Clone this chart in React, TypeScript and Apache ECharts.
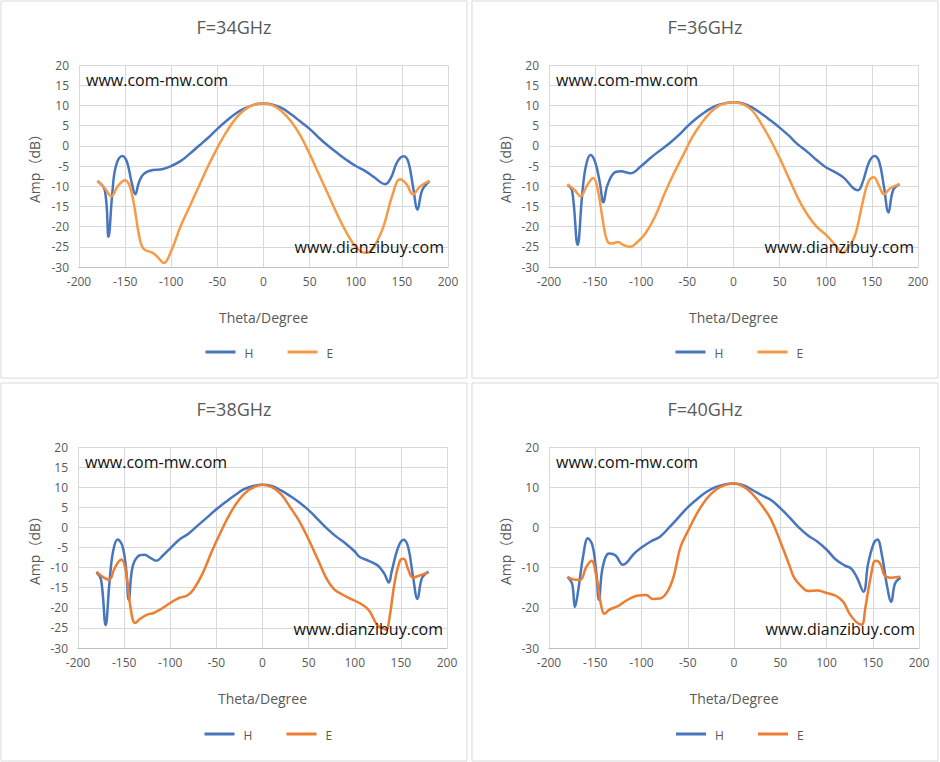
import { useEffect, useRef } from 'react';
import * as echarts from 'echarts';

type Pt = [number, number];

const titles = ['F=34GHz', 'F=36GHz', 'F=38GHz', 'F=40GHz'];
const yIntervals = [5, 5, 5, 10];

const h34: Pt[] = [[-180,-8.7],[-172,-11],[-168,-22.5],[-164,-12],[-160,-5],[-153,-2.5],[-148,-4],[-143,-9],[-139,-12],[-135,-9],[-130,-7],[-120,-6],[-110,-5.8],[-100,-5],[-90,-3.8],[-80,-2],[-70,0],[-60,2],[-50,4.2],[-40,6.2],[-30,8],[-20,9.3],[-10,10.2],[0,10.5],[10,10.2],[20,9.3],[30,7.8],[40,6],[50,4.2],[60,2],[70,0],[80,-1.8],[90,-3.5],[100,-5],[110,-6.2],[120,-7.8],[132,-9.5],[138,-8],[145,-4],[152,-2.6],[157,-4],[162,-10],[167,-15.8],[172,-11],[180,-8.7]];
const e34: Pt[] = [[-180,-8.7],[-172,-10.5],[-165,-12.5],[-158,-10],[-150,-8.5],[-145,-10],[-140,-15],[-135,-22],[-130,-25.5],[-120,-26.5],[-115,-27.5],[-108,-29],[-100,-26],[-90,-20],[-80,-15],[-70,-10],[-60,-5],[-50,-0.5],[-40,3.5],[-30,6.8],[-20,9],[-10,10.2],[0,10.5],[10,10],[20,8.5],[30,6],[40,2.5],[50,-2],[60,-7],[70,-12],[80,-17],[90,-21.5],[100,-25],[110,-26.5],[115,-26.3],[120,-25],[130,-20],[140,-12],[148,-8.3],[155,-9.5],[162,-12],[170,-10],[180,-8.7]];
const h36: Pt[] = [[-180,-9.7],[-175,-11],[-169,-24.5],[-164,-12],[-160,-5],[-155,-2.3],[-150,-4],[-145,-9],[-141,-14],[-137,-10],[-130,-6.8],[-122,-6.3],[-112,-6.8],[-100,-5],[-90,-3],[-80,-1.2],[-70,0.5],[-60,2.5],[-50,4.8],[-40,6.8],[-30,8.5],[-20,9.8],[-10,10.5],[0,10.8],[10,10.5],[20,9.5],[30,8],[40,6.3],[50,4.5],[60,2.5],[70,0.3],[80,-1.5],[90,-3.5],[100,-5.3],[110,-6.5],[120,-8],[130,-10.5],[135,-11],[140,-9],[147,-4],[153,-2.5],[158,-4],[163,-10],[168,-16.5],[173,-11],[180,-9.5]];
const e36: Pt[] = [[-180,-9.5],[-172,-11],[-166,-12.5],[-158,-9.5],[-152,-8],[-147,-11],[-142,-18],[-137,-23.5],[-132,-24.2],[-125,-23.8],[-120,-24.5],[-112,-25],[-105,-24],[-95,-21.5],[-85,-17.5],[-75,-12],[-65,-7],[-55,-2.5],[-45,2],[-35,5.5],[-25,8.3],[-15,10],[-5,10.7],[0,10.8],[10,10.3],[20,8.8],[30,5.5],[40,1.5],[50,-3],[60,-8],[70,-13],[80,-17],[90,-20],[100,-22],[110,-24.5],[118,-26.5],[125,-25],[132,-22],[140,-14],[146,-9],[152,-7.8],[158,-10],[163,-12],[170,-10.5],[180,-9.5]];
const h38: Pt[] = [[-180,-11.2],[-175,-13],[-170,-24.3],[-166,-14],[-162,-6],[-157,-3],[-152,-4.5],[-148,-10],[-145,-18],[-141,-10],[-135,-7.2],[-128,-6.8],[-122,-7.5],[-115,-8.3],[-108,-7],[-100,-5.2],[-90,-3],[-80,-1.5],[-70,0.5],[-60,2.5],[-50,4.5],[-40,6.3],[-30,8],[-20,9.5],[-10,10.3],[0,10.6],[10,10.3],[20,9.2],[30,7.8],[40,6.2],[50,4.3],[60,2],[70,-0.3],[80,-2.3],[90,-4],[100,-6],[105,-7.3],[115,-8.3],[125,-9.5],[132,-11.5],[137,-13.7],[140,-11],[147,-5],[153,-3.1],[158,-5],[163,-12],[168,-17.8],[173,-12.5],[180,-11]];
const e38: Pt[] = [[-180,-11],[-172,-12.5],[-166,-13],[-160,-10],[-153,-8],[-148,-11],[-143,-20],[-138,-23.8],[-133,-22.8],[-125,-21.7],[-118,-21.3],[-110,-20.3],[-100,-18.8],[-90,-17.5],[-82,-17],[-75,-15.5],[-65,-11.5],[-55,-6],[-45,-1],[-35,3.5],[-25,7],[-15,9.3],[-5,10.4],[0,10.6],[10,10],[20,8.3],[30,5],[40,1.5],[50,-3],[60,-8],[70,-13],[78,-15.5],[85,-16.5],[95,-17.7],[105,-18.8],[115,-20.5],[120,-22.5],[125,-24.5],[130,-25],[134,-25.5],[138,-22],[143,-14],[149,-8.3],[153,-7.8],[158,-10.5],[163,-12.5],[170,-12],[180,-11.2]];
const h40: Pt[] = [[-180,-12.3],[-175,-14],[-172,-19.8],[-168,-15],[-163,-7],[-158,-2.7],[-153,-4.5],[-149,-11],[-146,-18],[-142,-10],[-135,-6.5],[-128,-7],[-120,-9.3],[-115,-8.5],[-108,-6.5],[-100,-5],[-90,-3.5],[-80,-2.3],[-70,0],[-60,2.5],[-50,5],[-40,7],[-30,8.8],[-20,10],[-10,10.7],[0,10.9],[10,10.5],[20,9.3],[30,8],[40,6.8],[50,4.8],[60,2.5],[70,0],[80,-2],[90,-3.5],[100,-5.5],[110,-8],[120,-9.5],[127,-10.3],[133,-12.5],[140,-16],[145,-9],[151,-4],[155,-3],[160,-7],[165,-14],[170,-18.5],[174,-14],[180,-12.5]];
const e40: Pt[] = [[-180,-12.3],[-172,-13],[-166,-13],[-160,-10],[-154,-8.3],[-149,-12],[-144,-19],[-140,-21.5],[-135,-20.5],[-125,-19.5],[-115,-18],[-105,-17],[-95,-16.8],[-88,-17.8],[-80,-17.7],[-72,-16],[-65,-12],[-58,-5],[-50,-1],[-40,3.5],[-30,7],[-20,9.3],[-10,10.5],[0,10.9],[10,10.2],[20,8.3],[30,5.5],[40,2],[50,-3.5],[60,-9.5],[65,-12.5],[72,-14.5],[80,-15.8],[90,-15.7],[100,-16.3],[110,-17],[118,-18.5],[125,-21.5],[132,-23.5],[138,-24.2],[142,-20],[148,-12],[153,-8.3],[158,-9],[163,-12],[170,-12.5],[180,-12.3]];

const hSeries = [h34, h36, h38, h40];
const eSeries = [e34, e36, e38, e40];

const BLUE = '#4775BE';
const eColors = ['#F79A45', '#F79A45', '#ED7D31', '#ED7D31'];
const FONT = '"Open Sans", "Noto Sans CJK SC", sans-serif';
const GREY = '#595959';

// panel boxes: [left, top, width, height]
const panels = [
  [1, 1, 466, 377],
  [472, 1, 466, 377],
  [1, 383, 466, 378],
  [472, 383, 466, 378],
];
const grids = [
  { left: 79, top: 65, width: 369, height: 202 },
  { left: 549, top: 65, width: 369, height: 202 },
  { left: 78, top: 447, width: 369, height: 201 },
  { left: 549, top: 447, width: 370, height: 201 },
];

export default function App() {
  const ref = useRef<HTMLDivElement | null>(null);

  useEffect(() => {
    if (!ref.current) return;
    document.body.style.margin = '0';
    const chart = echarts.init(ref.current, undefined, { renderer: 'svg' });

    const graphic: any[] = [];
    panels.forEach(([x, y, w, h], i) => {
      const g = grids[i];
      const cx = g.left + g.width / 2;
      graphic.push(
        { type: 'rect', shape: { x, y, width: w, height: h }, style: { fill: '#fff', stroke: '#d9d9d9', lineWidth: 1 }, z: -10 },
        { type: 'text', x: x + w / 2, y: y + 26, style: { text: titles[i], fill: GREY, font: `18px ${FONT}`, textAlign: 'center', textVerticalAlign: 'middle' } },
        { type: 'text', x: g.left + 7, y: g.top + 15, style: { text: 'www.com-mw.com', fill: '#111', font: `16px ${FONT}`, textVerticalAlign: 'middle' }, z: 10 },
        { type: 'text', x: g.left + g.width - 4, y: g.top + 182, style: { text: 'www.dianzibuy.com', fill: '#111', font: `16px ${FONT}`, textAlign: 'right', textVerticalAlign: 'middle' }, z: 10 },
        { type: 'text', x: cx, y: g.top + g.height + 50, style: { text: 'Theta/Degree', fill: GREY, font: `14px ${FONT}`, textAlign: 'center', textVerticalAlign: 'middle' } },
        { type: 'text', x: x + 33, y: g.top + 100, rotation: Math.PI / 2, style: { text: 'Amp（dB）', fill: GREY, font: `14px ${FONT}`, textAlign: 'center', textVerticalAlign: 'middle' } },
        { type: 'line', shape: { x1: cx - 58, y1: y + 351, x2: cx - 28, y2: y + 351 }, style: { stroke: BLUE, lineWidth: 3 } },
        { type: 'text', x: cx - 19, y: y + 352, style: { text: 'H', fill: GREY, font: `12px ${FONT}`, textVerticalAlign: 'middle' } },
        { type: 'line', shape: { x1: cx + 24, y1: y + 351, x2: cx + 54, y2: y + 351 }, style: { stroke: eColors[i], lineWidth: 3 } },
        { type: 'text', x: cx + 63, y: y + 352, style: { text: 'E', fill: GREY, font: `12px ${FONT}`, textVerticalAlign: 'middle' } },
      );
    });

    chart.setOption({
      animation: false,
      backgroundColor: '#fff',
      graphic,
      grid: grids,
      xAxis: grids.map((_, i) => ({
        type: 'value',
        gridIndex: i,
        min: -200,
        max: 200,
        interval: 50,
        axisLine: { onZero: false, lineStyle: { color: '#bfbfbf' } },
        axisTick: { show: false },
        splitLine: { lineStyle: { color: '#d9d9d9' } },
        axisLabel: { color: GREY, fontSize: 12, fontFamily: FONT, margin: 8 },
      })),
      yAxis: grids.map((_, i) => ({
        type: 'value',
        gridIndex: i,
        min: -30,
        max: 20,
        interval: yIntervals[i],
        axisLine: { show: false },
        axisTick: { show: false },
        splitLine: { lineStyle: { color: '#d9d9d9' } },
        axisLabel: { color: GREY, fontSize: 12, fontFamily: FONT, margin: 10 },
      })),
      series: grids.flatMap((_, i) => [
        {
          type: 'line', xAxisIndex: i, yAxisIndex: i, data: hSeries[i], smooth: 0.4,
          showSymbol: false, lineStyle: { color: BLUE, width: 2.5 },
        },
        {
          type: 'line', xAxisIndex: i, yAxisIndex: i, data: eSeries[i], smooth: 0.4,
          showSymbol: false, lineStyle: { color: eColors[i], width: 2.5 },
        },
      ]),
    });

    return () => chart.dispose();
  }, []);

  return <div ref={ref} style={{ width: 940, height: 762 }} />;
}
